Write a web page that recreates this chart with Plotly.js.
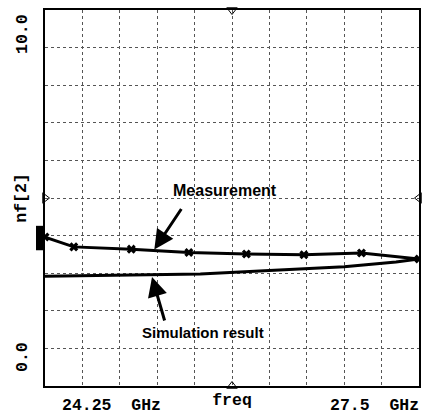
<!DOCTYPE html>
<html>
<head>
<meta charset="utf-8">
<script src="https://cdn.plot.ly/plotly-3.0.1.min.js"></script>
<style>html,body{margin:0;padding:0;background:#fff;}#chart{width:424px;height:420px;}</style>
</head>
<body>
<div id="chart"></div>
<script>
// Frequency axis (GHz)
var freqStart = 24.25;
var freqStop = 27.5;
var yMin = 0.0;
var yMax = 10.0;

var measFreq = [24.25, 24.5, 25.0, 25.5, 26.0, 26.5, 27.0, 27.5];
var measNF   = [3.96, 3.70, 3.64, 3.55, 3.51, 3.49, 3.54, 3.38];

// Simulation result
var simFreq = [24.25, 24.75, 25.25, 25.6, 26.2, 26.85, 27.3, 27.5];
var simNF   = [2.92, 2.94, 2.96, 2.98, 3.07, 3.17, 3.30, 3.38];

// Axis labels
var xStartLabel = "24.25  GHz";
var xStopLabel = "27.5  GHz";
var xTitle = "freq";
var yTitle = "nf[2]";
var yStartLabel = "0.0";
var yStopLabel = "10.0";
var measText = "Measurement";
var simText = "Simulation result";

var mono = "Liberation Mono, DejaVu Sans Mono, monospace";
var sans = "Liberation Sans, Arial, sans-serif";
var fmid = (freqStart + freqStop) / 2;
var ymid = (yMin + yMax) / 2;

var traces = [
  {x: simFreq, y: simNF, mode: "lines", line: {color: "#000", width: 3}, hoverinfo: "skip"},
  {x: measFreq, y: measNF, mode: "lines+markers", line: {color: "#000", width: 3},
   marker: {symbol: "x", size: 8, color: "#000"}, hoverinfo: "skip"},
  {x: [freqStart, freqStop], y: [ymid, ymid], mode: "markers", cliponaxis: false,
   marker: {symbol: ["triangle-right-open", "triangle-left-open"], size: 9, color: "#000", line: {width: 1}}, hoverinfo: "skip"},
  {x: [fmid, fmid], y: [yMax, yMin], mode: "markers", cliponaxis: false,
   marker: {symbol: ["triangle-down-open", "triangle-up-open"], size: 9, color: "#000", line: {width: 1}}, hoverinfo: "skip"}
];

var layout = {
  width: 424, height: 420,
  margin: {l: 45, r: 5, t: 10, b: 34},
  paper_bgcolor: "#fff", plot_bgcolor: "#fff",
  showlegend: false,
  xaxis: {
    range: [freqStart, freqStop], tick0: freqStart, dtick: (freqStop - freqStart) / 10,
    showticklabels: false, ticks: "", zeroline: false,
    showgrid: true, gridcolor: "#555", griddash: "dot", gridwidth: 1,
    showline: true, mirror: true, linecolor: "#000", linewidth: 2,
    title: {text: xTitle, font: {family: mono, size: 16.5, color: "#000", weight: "bold"}, standoff: 6}
  },
  yaxis: {
    range: [yMin, yMax], tick0: yMin, dtick: 1,
    showticklabels: false, ticks: "", zeroline: false,
    showgrid: true, gridcolor: "#555", griddash: "dot", gridwidth: 1,
    showline: true, mirror: true, linecolor: "#000", linewidth: 2,
    title: {text: yTitle, font: {family: mono, size: 16.5, color: "#000", weight: "bold"}, standoff: 12}
  },
  shapes: [
    {type: "rect", xref: "paper", yref: "y", x0: -0.024, x1: 0, y0: measNF[0] - 0.35, y1: measNF[0] + 0.3,
     fillcolor: "#000", line: {width: 0}}
  ],
  annotations: [
    {xref: "x", yref: "paper", x: freqStart, y: 0, xanchor: "left", yanchor: "top", xshift: 15, yshift: -8,
     text: "<b>" + xStartLabel + "</b>", showarrow: false, font: {family: mono, size: 16.5, color: "#000"}},
    {xref: "x", yref: "paper", x: freqStop, y: 0, xanchor: "right", yanchor: "top", xshift: 2, yshift: -8,
     text: "<b>" + xStopLabel + "</b>", showarrow: false, font: {family: mono, size: 16.5, color: "#000"}},
    {xref: "paper", yref: "y", x: 0, y: yMax, xanchor: "center", yanchor: "top", xshift: -23, yshift: -2,
     textangle: -90, text: "<b>" + yStopLabel + "</b>", showarrow: false, font: {family: mono, size: 16.5, color: "#000"}},
    {xref: "paper", yref: "y", x: 0, y: yMin, xanchor: "center", yanchor: "bottom", xshift: -23, yshift: 12,
     textangle: -90, text: "<b>" + yStartLabel + "</b>", showarrow: false, font: {family: mono, size: 16.5, color: "#000"}},
    {xref: "x", yref: "y", x: 25.81, y: 5.21, text: "<b>" + measText + "</b>", showarrow: false,
     font: {family: sans, size: 16, color: "#000"}},
    {xref: "x", yref: "y", x: 25.62, y: 1.41, text: "<b>" + simText + "</b>", showarrow: false,
     font: {family: sans, size: 15, color: "#000"}},
    {xref: "x", yref: "y", x: 25.2, y: 3.63, text: "", showarrow: true, ax: 28, ay: -42,
     arrowhead: 2, arrowsize: 1.3, arrowwidth: 3, arrowcolor: "#000"},
    {xref: "x", yref: "y", x: 25.18, y: 2.9, text: "", showarrow: true, ax: 13, ay: 45,
     arrowhead: 2, arrowsize: 1.3, arrowwidth: 3, arrowcolor: "#000"}
  ]
};

Plotly.newPlot("chart", traces, layout, {staticPlot: true, displayModeBar: false});
</script>
</body>
</html>
